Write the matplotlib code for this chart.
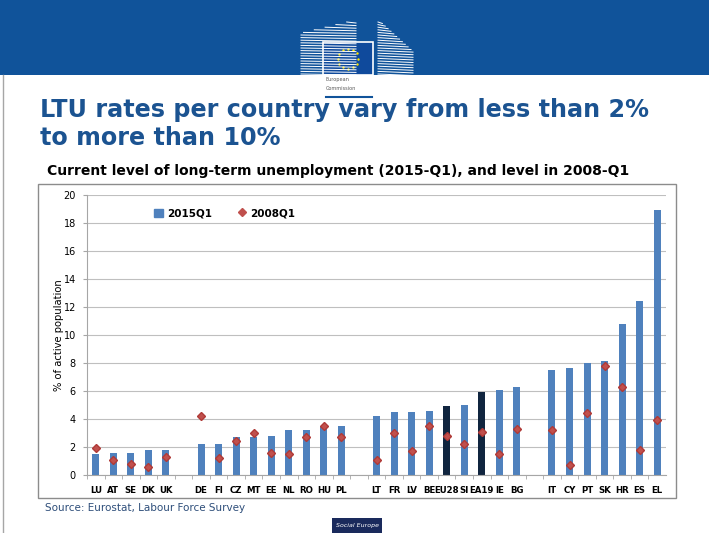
import numpy as np
import matplotlib
matplotlib.use('Agg')
import matplotlib.pyplot as plt
from matplotlib.patches import Rectangle
from matplotlib.lines import Line2D

# %% data
groups = [
    ['LU', 'AT', 'SE', 'DK', 'UK'],
    ['DE', 'FI', 'CZ', 'MT', 'EE', 'NL', 'RO', 'HU', 'PL'],
    ['LT', 'FR', 'LV', 'BE', 'EU28', 'SI', 'EA19', 'IE', 'BG'],
    ['IT', 'CY', 'PT', 'SK', 'HR', 'ES', 'EL'],
]
ltu_2015q1 = [1.5, 1.6, 1.6, 1.8, 1.8,
              2.2, 2.2, 2.7, 2.7, 2.8, 3.2, 3.2, 3.4, 3.5,
              4.2, 4.5, 4.5, 4.6, 4.9, 5.0, 5.9, 6.1, 6.3,
              7.5, 7.6, 8.0, 8.1, 10.8, 12.4, 18.9]
ltu_2008q1 = [1.9, 1.1, 0.8, 0.55, 1.3,
              4.2, 1.2, 2.4, 3.0, 1.6, 1.5, 2.7, 3.5, 2.7,
              1.1, 3.0, 1.7, 3.5, 2.8, 2.2, 3.1, 1.5, 3.3,
              3.2, 0.7, 4.4, 7.8, 6.3, 1.8, 3.9]
aggregates = ['EU28', 'EA19']
yticks = list(range(0, 21, 2))

blue = '#4F81BD'
navy = '#10253F'
red = '#C0504D'
banner = '#10539A'
title_col = '#1B5391'

# slot positions with an empty slot between groups
labels, xpos = [], []
pos = 0
for g in groups:
    for c in g:
        labels.append(c)
        xpos.append(pos)
        pos += 1
    pos += 1
xpos = np.array(xpos)

W, H = 709, 533
fig = plt.figure(figsize=(W / 100, H / 100), dpi=100)

# background layer in pixel coordinates
bg = fig.add_axes([0, 0, 1, 1], zorder=0)
bg.set_xlim(0, W)
bg.set_ylim(H, 0)
bg.axis('off')

bg.add_patch(Rectangle((0, 0), W, 75, color=banner, lw=0))
bg.plot([3, 3], [75, H], color='#A6A6A6', lw=1)

# EC logo (rough)
for y in np.arange(22, 75, 2.6):
    xl = max(301, 355 - (y - 20) * 54 / 13)
    bg.plot([xl, 356], [y, y + 1], color='white', lw=0.7)
    xr = 378 + min(35, (y - 18) * 1.1)
    bg.plot([378, xr], [y, y + 1.5], color='white', lw=0.7)
bg.add_patch(Rectangle((323, 42), 50, 33, facecolor='#0F4A9C', edgecolor='white', lw=1.2))
ang = np.linspace(0, 2 * np.pi, 13)[:-1]
bg.scatter(348 + 10 * np.cos(ang), 58.5 + 10 * np.sin(ang), s=3, color='#FFE600', lw=0)
bg.text(326, 80, 'European', fontsize=3.6, color='#595959', va='center')
bg.text(326, 89, 'Commission', fontsize=3.6, color='#595959', va='center')
bg.plot([326, 372], [97, 97], color=banner, lw=1.5)

bg.text(40, 124, 'LTU rates per country vary from less than 2%\nto more than 10%',
        fontsize=17.2, fontweight='bold', color=title_col, va='center', linespacing=1.18)
bg.text(47, 171, 'Current level of long-term unemployment (2015-Q1), and level in 2008-Q1',
        fontsize=10.0, fontweight='bold', color='black', va='center')

# chart frame
bg.add_patch(Rectangle((38, 184), 638, 314, facecolor='white', edgecolor='#8C8C8C', lw=1))

bg.text(45, 508, 'Source: Eurostat, Labour Force Survey', fontsize=7.5, color='#2E4E7A', va='center')
bg.add_patch(Rectangle((332, 518), 50, 15, color='#1A2A5C', lw=0))
bg.text(357, 525.5, 'Social Europe', fontsize=4.5, color='white', style='italic', ha='center', va='center')

# %% chart
ax = fig.add_axes([87 / W, 58 / H, (666 - 87) / W, 280.3 / H], zorder=1)
ax.patch.set_alpha(0)

colors = [navy if c in aggregates else blue for c in labels]
ax.bar(xpos, ltu_2015q1, width=0.4, color=colors, zorder=2)
ax.plot(xpos, ltu_2008q1, linestyle='none', marker='D', markersize=4.5,
        color=red, markeredgecolor='#B03A37', zorder=3)

ax.set_xlim(-0.5, pos - 1.5)
ax.set_ylim(0, 20)
ax.set_yticks(yticks)
ax.yaxis.grid(True, color='#BFBFBF', lw=0.8)
ax.set_axisbelow(True)
ax.set_xticks(xpos)
ax.set_xticklabels(labels, fontsize=6.2, fontweight='bold')
ax.set_xticks(np.arange(-0.5, pos - 1.5, 1), minor=True)
ax.tick_params(axis='x', which='major', length=0, pad=8)
ax.tick_params(axis='x', which='minor', length=3, color='#A6A6A6')
ax.tick_params(axis='y', length=3, color='#A6A6A6', labelsize=7, pad=5)
for s in ['top', 'right']:
    ax.spines[s].set_visible(False)
ax.spines['left'].set_color('#A6A6A6')
ax.spines['bottom'].set_color('#A6A6A6')
ax.set_ylabel('% of active population', fontsize=7.2, labelpad=0)

handles = [Rectangle((0, 0), 1, 1, color=blue),
           Line2D([], [], linestyle='none', marker='D', markersize=4, color=red)]
ax.legend(handles, ['2015Q1', '2008Q1'], ncol=2, frameon=False, loc='upper left',
          bbox_to_anchor=(0.1, 0.985), prop={'size': 7.5, 'weight': 'bold'},
          handlelength=0.8, handleheight=0.8, columnspacing=2.5, handletextpad=0.4)

fig.savefig('out.png', dpi=100)
